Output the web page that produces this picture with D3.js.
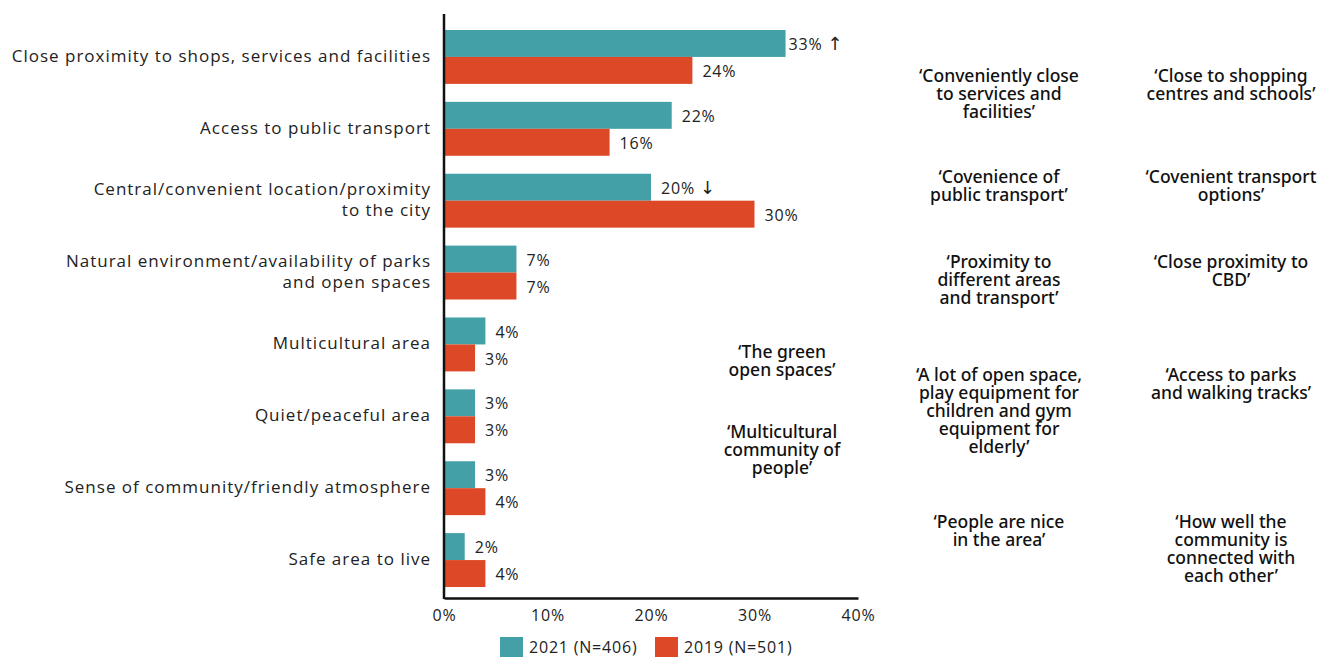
<!DOCTYPE html>
<html>
<head>
<meta charset="utf-8">
<script src="https://cdn.jsdelivr.net/npm/d3@7/dist/d3.min.js"></script>
<style>
  html, body { margin: 0; padding: 0; background: #fff; }
  svg { display: block; }
  text { font-family: "Open Sans", "Noto Sans", sans-serif; fill: #222; }
  .cat { font-size: 17px; letter-spacing: 1px; }
  .val, .tick text, .leg { font-size: 16px; letter-spacing: 0.8px; }
  .arrow { font-family: "DejaVu Sans", sans-serif; font-size: 18px; letter-spacing: 0; }
  .quote { font-family: "Noto Sans", sans-serif; font-weight: 500; font-size: 17.5px; fill: #111; }
</style>
</head>
<body>
<svg id="chart" width="1333" height="657"></svg>
<script>
// Reasons for liking the area, 2021 vs 2019 (% of respondents)
const categories = [
  ["Close proximity to shops, services and facilities"],
  ["Access to public transport"],
  ["Central/convenient location/proximity", "to the city"],
  ["Natural environment/availability of parks", "and open spaces"],
  ["Multicultural area"],
  ["Quiet/peaceful area"],
  ["Sense of community/friendly atmosphere"],
  ["Safe area to live"]
];
const values2021 = [33, 22, 20, 7, 4, 3, 3, 2];
const values2019 = [24, 16, 30, 7, 3, 3, 4, 4];
// significant change markers for 2021
const changes2021 = ["↑", "", "↓", "", "", "", "", ""];
const xTicks = [0, 10, 20, 30, 40];
const seriesNames = ["2021 (N=406)", "2019 (N=501)"];
const seriesColors = ["#43A0A6", "#DD4827"];

// Verbatim comments, grouped in three columns; row = position in category rows
const quoteCols = [
  [
    { lines: ["‘The green", "open spaces’"], row: 4.48 },
    { lines: ["‘Multicultural", "community of", "people’"], row: 5.59 }
  ],
  [
    { lines: ["‘Conveniently close", "to services and", "facilities’"], row: 0.64 },
    { lines: ["‘Covenience of", "public transport’"], row: 2.045 },
    { lines: ["‘Proximity to", "different areas", "and transport’"], row: 3.23 },
    { lines: ["‘A lot of open space,", "play equipment for", "children and gym", "equipment for", "elderly’"], row: 4.8 },
    { lines: ["‘People are nice", "in the area’"], row: 6.85 }
  ],
  [
    { lines: ["‘Close to shopping", "centres and schools’"], row: 0.64 },
    { lines: ["‘Covenient transport", "options’"], row: 2.045 },
    { lines: ["‘Close proximity to", "CBD’"], row: 3.23 },
    { lines: ["‘Access to parks", "and walking tracks’"], row: 4.8 },
    { lines: ["‘How well the", "community is", "connected with", "each other’"], row: 6.85 }
  ]
];

const svg = d3.select("#chart");
const plotLeft = 444, plotRight = 858, plotTop = 14, plotBottom = 598;

const x = d3.scaleLinear().domain([0, 40]).range([plotLeft, plotRight]);
const y = d3.scaleBand()
  .domain(d3.range(categories.length))
  .range([21, 596])
  .paddingInner(0.25)
  .paddingOuter(0.125);
const ySub = d3.scaleBand().domain([0, 1]).range([0, y.bandwidth()]);

const data = categories.map((c, i) => ({
  i, label: c,
  vals: [values2021[i], values2019[i]],
  marks: [changes2021[i], ""]
}));

// bars
const groups = svg.append("g").selectAll("g").data(data).join("g")
  .attr("transform", d => `translate(0,${y(d.i)})`);

groups.selectAll("rect").data(d => d.vals.map((v, s) => ({ v, s })))
  .join("rect")
  .attr("x", x(0))
  .attr("y", d => ySub(d.s))
  .attr("width", d => x(d.v) - x(0))
  .attr("height", ySub.bandwidth())
  .attr("fill", d => seriesColors[d.s]);

// value labels
groups.selectAll("text.val").data(d => d.vals.map((v, s) => ({ v, s, m: d.marks[s] })))
  .join("text")
  .attr("class", "val")
  .attr("x", d => x(d.v) + (d.m === "↑" ? 3 : 10))
  .attr("y", d => ySub(d.s) + ySub.bandwidth() / 2 + 1)
  .attr("dy", "0.35em")
  .each(function(d) {
    const t = d3.select(this);
    t.append("tspan").text(d.v + "% ");
    if (d.m) t.append("tspan").attr("class", "arrow").text(d.m);
  });

// category labels
svg.append("g").selectAll("text").data(data).join("text")
  .attr("class", "cat")
  .attr("text-anchor", "end")
  .attr("x", 431)
  .attr("y", d => y(d.i) + y.bandwidth() / 2 - 1 - (d.label.length - 1) * 10.5)
  .each(function(d) {
    d3.select(this).selectAll("tspan").data(d.label).join("tspan")
      .attr("x", 431)
      .attr("dy", (t, k) => k === 0 ? "0.35em" : 21)
      .text(t => t);
  });

// x axis
const xAxis = d3.axisBottom(x).tickValues(xTicks).tickFormat(d => d + "%").tickSize(0).tickPadding(12);
const gx = svg.append("g").attr("transform", `translate(0,${plotBottom})`).call(xAxis);
gx.select(".domain").attr("stroke", "#111").attr("stroke-width", 2.5);
gx.selectAll("text").attr("font-size", null).attr("font-family", null).attr("fill", "#222");
gx.attr("font-size", null).attr("font-family", null);

// y axis line
svg.append("line")
  .attr("x1", plotLeft).attr("x2", plotLeft)
  .attr("y1", plotTop).attr("y2", plotBottom + 1)
  .attr("stroke", "#111").attr("stroke-width", 2.5);

// legend
const legend = svg.append("g").attr("transform", "translate(500,637)");
const legendX = [0, 155];
seriesNames.forEach((name, s) => {
  const g = legend.append("g").attr("transform", `translate(${legendX[s]},0)`);
  g.append("rect").attr("width", 23).attr("height", 22).attr("fill", seriesColors[s]);
  g.append("text").attr("class", "leg").attr("x", 29).attr("y", 10).attr("dy", "0.35em").text(name);
});

// quotes
const colX = [782, 999, 1231];
const lineH = 18;
quoteCols.forEach((col, ci) => {
  col.forEach(q => {
    const t = svg.append("text").attr("class", "quote").attr("text-anchor", "middle");
    const y0 = y(0) + q.row * y.step();
    q.lines.forEach((ln, k) => {
      t.append("tspan").attr("x", colX[ci]).attr("y", y0 + k * lineH).attr("dy", "0.35em").text(ln);
    });
  });
});
</script>
</body>
</html>
